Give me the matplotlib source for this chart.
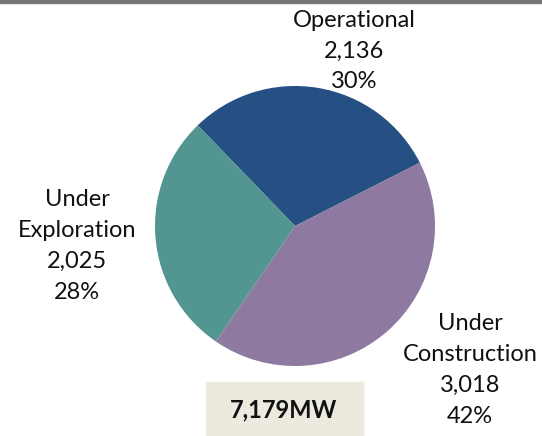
"""Installed capacity pie chart by project status (MW)."""

import matplotlib

matplotlib.use("Agg")

import matplotlib.pyplot as plt  # noqa: E402
from matplotlib.patches import Rectangle  # noqa: E402

categories = ["Operational", "Under Construction", "Under Exploration"]
label_names = ["Operational", "Under\nConstruction", "Under\nExploration"]
values = [2136, 3018, 2025]
colors = ["#264f84", "#8e79a1", "#539591"]

# label centres in pixels (x, y from top)
label_pos = [(354, 51), (470, 370), (77, 246)]

W, H = 542, 436
plt.rcParams["font.family"] = ["Lato", "DejaVu Sans"]

fig = plt.figure(figsize=(W / 100, H / 100), dpi=100)

# pie axes: centre (295, 226), radius 140 px
cx, cy, r = 295, 226, 140
ax = fig.add_axes([(cx - r) / W, 1 - (cy + r) / H, 2 * r / W, 2 * r / H])
ax.pie(
    values,
    colors=colors,
    startangle=134,
    counterclock=False,
    radius=1,
    wedgeprops={"linewidth": 0},
)
ax.set_xlim(-1, 1)
ax.set_ylim(-1, 1)
ax.set_aspect("equal")
ax.axis("off")

total = sum(values)
for name, v, (x, y) in zip(label_names, values, label_pos):
    pct = round(100 * v / total)
    fig.text(
        x / W,
        1 - y / H,
        f"{name}\n{v:,}\n{pct}%",
        ha="center",
        va="center",
        fontsize=17,
        linespacing=1.58,
        color="#111111",
    )

# top rule and total box
fig.patches.append(
    Rectangle((0, 1 - 3 / H), 1, 3 / H, transform=fig.transFigure, color="#767676")
)
fig.patches.append(
    Rectangle(
        (206 / W, 0), (363 - 206) / W, (436 - 382) / H,
        transform=fig.transFigure, color="#ece9df",
    )
)
fig.text(
    284 / W, 1 - 410 / H, f"{total:,}MW",
    ha="center", va="center", fontsize=17, fontweight="bold", color="#111111",
)

fig.savefig("out.png", dpi=100)
